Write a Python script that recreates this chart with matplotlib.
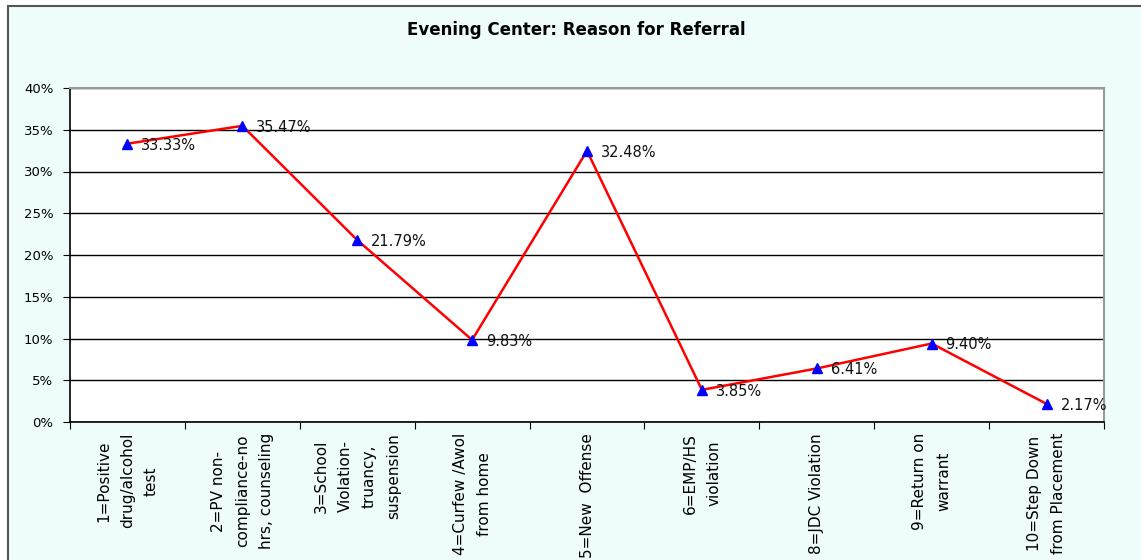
import matplotlib.pyplot as plt
from matplotlib.patches import Rectangle
from matplotlib.ticker import FuncFormatter, MultipleLocator

title = "Evening Center: Reason for Referral"
categories = ["1=Positive\ndrug/alcohol\ntest",
              "2=PV non-\ncompliance-no\nhrs, counseling",
              "3=School\nViolation-\ntruancy,\nsuspension",
              "4=Curfew /Awol\nfrom home",
              "5=New  Offense",
              "6=EMP/HS\nviolation",
              "8=JDC Violation",
              "9=Return on\nwarrant",
              "10=Step Down\nfrom Placement"]
percent = [33.33, 35.47, 21.79, 9.83, 32.48, 3.85, 6.41, 9.40, 2.17]

W, H = 1141, 560
fig = plt.figure(figsize=(W / 100, H / 100), dpi=100)
fig.patch.set_facecolor("white")

# chart area with light cyan background and dark border (runs off right/bottom)
bg = Rectangle((8 / W, -0.2), 1.2, 1.2 - 6 / H, transform=fig.transFigure,
               facecolor="#eefcfc", edgecolor="#555555", linewidth=1.5, zorder=-5)
fig.patches.append(bg)

ax = fig.add_axes([70 / W, 1 - 422 / H, (1104 - 70) / W, (422 - 88) / H])
ax.set_facecolor("white")

x = list(range(1, len(percent) + 1))
ax.plot(x, percent, color="red", linewidth=1.8, zorder=3)
ax.plot(x, percent, linestyle="none", marker="^", markersize=6.5,
        color="blue", zorder=4)
for xi, v in zip(x, percent):
    ax.annotate(f"{v:.2f}%", (xi, v), xytext=(10, -1), textcoords="offset points",
                ha="left", va="center", fontsize=10.5, color="#111111", zorder=5)

ax.set_xlim(0.5, len(percent) + 0.5)
ax.set_ylim(0, 40)
ax.yaxis.set_major_locator(MultipleLocator(5))
ax.yaxis.set_major_formatter(FuncFormatter(lambda v, p: f"{v:.0f}%"))
ax.grid(axis="y", color="black", linewidth=1)
ax.set_axisbelow(True)

ax.set_xticks([i + 0.5 for i in range(len(percent) + 1)])
ax.set_xticklabels([])
ax.set_xticks(x, minor=True)
ax.set_xticklabels(categories, minor=True, rotation=90, ha="center", va="top",
                   multialignment="center", fontsize=11, linespacing=1.75)
ax.tick_params(axis="x", which="major", length=5, direction="out", color="black")
ax.tick_params(axis="x", which="minor", length=0, pad=8)
ax.tick_params(axis="y", length=5, direction="out", labelsize=9.5, pad=7)

for s in ["left", "bottom"]:
    ax.spines[s].set_color("black")
    ax.spines[s].set_linewidth(1.2)
for s in ["top", "right"]:
    ax.spines[s].set_color("#999999")
    ax.spines[s].set_linewidth(1.5)

fig.text(576 / W, 1 - 30 / H, title, ha="center", va="center",
         fontsize=12, fontweight="bold")

fig.savefig("out.png", dpi=100)
